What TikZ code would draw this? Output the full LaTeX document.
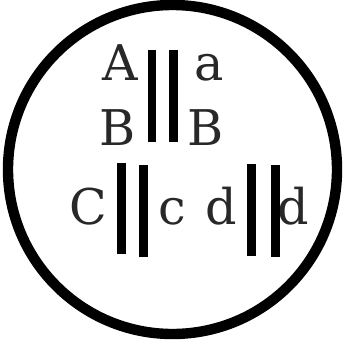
\documentclass[tikz,border=0pt]{standalone}
\usepackage{fontspec}
\setmainfont{DejaVu Serif}
\usepackage{xcolor}
\usepackage{tikz}
\definecolor{ink}{RGB}{40,40,40}

\tikzset{
  letter/.style={font=\fontsize{35}{42}\selectfont, text=ink, anchor=base, inner sep=0pt},
  bar/.style={line width=0.21cm, line cap=butt},
}

\begin{document}
\begin{tikzpicture}[x=0.025cm, y=-0.025cm]
  \useasboundingbox (0,0) rectangle (345,349);
  \draw[line width=0.26cm] (172.5,169.5) circle (164.5);
  % top row
  \node[letter] (A)  at (120,80)  {A};
  \node[letter] (a)  at (209.5,80) {a};
  \node[letter] (B1) at (117.5,145) {B};
  \node[letter] (B2) at (206,145) {B};
  \draw[bar] (152,50) -- (152,142);
  \draw[bar] (173.5,50) -- (173.5,142);
  % bottom row
  \node[letter] (C)  at (88.5,224) {C};
  \node[letter] (c)  at (172.5,224) {c};
  \node[letter] (d1) at (221.5,224) {d};
  \node[letter] (d2) at (293.5,224) {d};
  \draw[bar] (121.5,163) -- (121.5,254);
  \draw[bar] (143.5,165) -- (143.5,257);
  \draw[bar] (251.5,164) -- (251.5,256);
  \draw[bar] (275.5,165) -- (275.5,257);
\end{tikzpicture}
\end{document}
